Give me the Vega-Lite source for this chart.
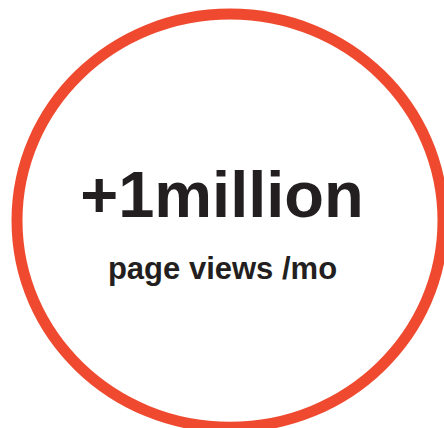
{
  "$schema": "https://vega.github.io/schema/vega-lite/v6.json",
  "width": 444,
  "height": 428,
  "autosize": "none",
  "padding": 0,
  "background": "white",
  "config": {"view": {"stroke": null}},
  "data": {"values": [
    {"kind": "ring", "label": ""},
    {"kind": "headline", "label": "+1million"},
    {"kind": "subline", "label": "page views /mo"}
  ]},
  "layer": [
    {
      "transform": [{"filter": "datum.kind === 'ring'"}],
      "mark": {"type": "point", "shape": "M-1,0A1,0.97,0,1,1,1,0A1,0.97,0,1,1,-1,0Z", "size": 181476, "filled": false, "stroke": "#ef4a2f", "strokeWidth": 11, "opacity": 1},
      "encoding": {
        "x": {"datum": 230, "type": "quantitative", "scale": {"domain": [0, 444], "nice": false, "zero": false}, "axis": null},
        "y": {"datum": 220.6, "type": "quantitative", "scale": {"domain": [0, 428], "nice": false, "zero": false, "reverse": true}, "axis": null}
      }
    },
    {
      "transform": [{"filter": "datum.kind === 'headline'"}],
      "mark": {"type": "text", "font": "Liberation Sans", "fontWeight": "bold", "fontSize": 65, "align": "center", "baseline": "alphabetic", "color": "#231f20"},
      "encoding": {
        "x": {"datum": 222, "type": "quantitative"},
        "y": {"datum": 216.5, "type": "quantitative"},
        "text": {"field": "label", "type": "nominal"}
      }
    },
    {
      "transform": [{"filter": "datum.kind === 'subline'"}],
      "mark": {"type": "text", "font": "Liberation Sans", "fontWeight": "bold", "fontSize": 31, "align": "center", "baseline": "alphabetic", "color": "#231f20"},
      "encoding": {
        "x": {"datum": 222.5, "type": "quantitative"},
        "y": {"datum": 278.5, "type": "quantitative"},
        "text": {"field": "label", "type": "nominal"}
      }
    }
  ]
}
